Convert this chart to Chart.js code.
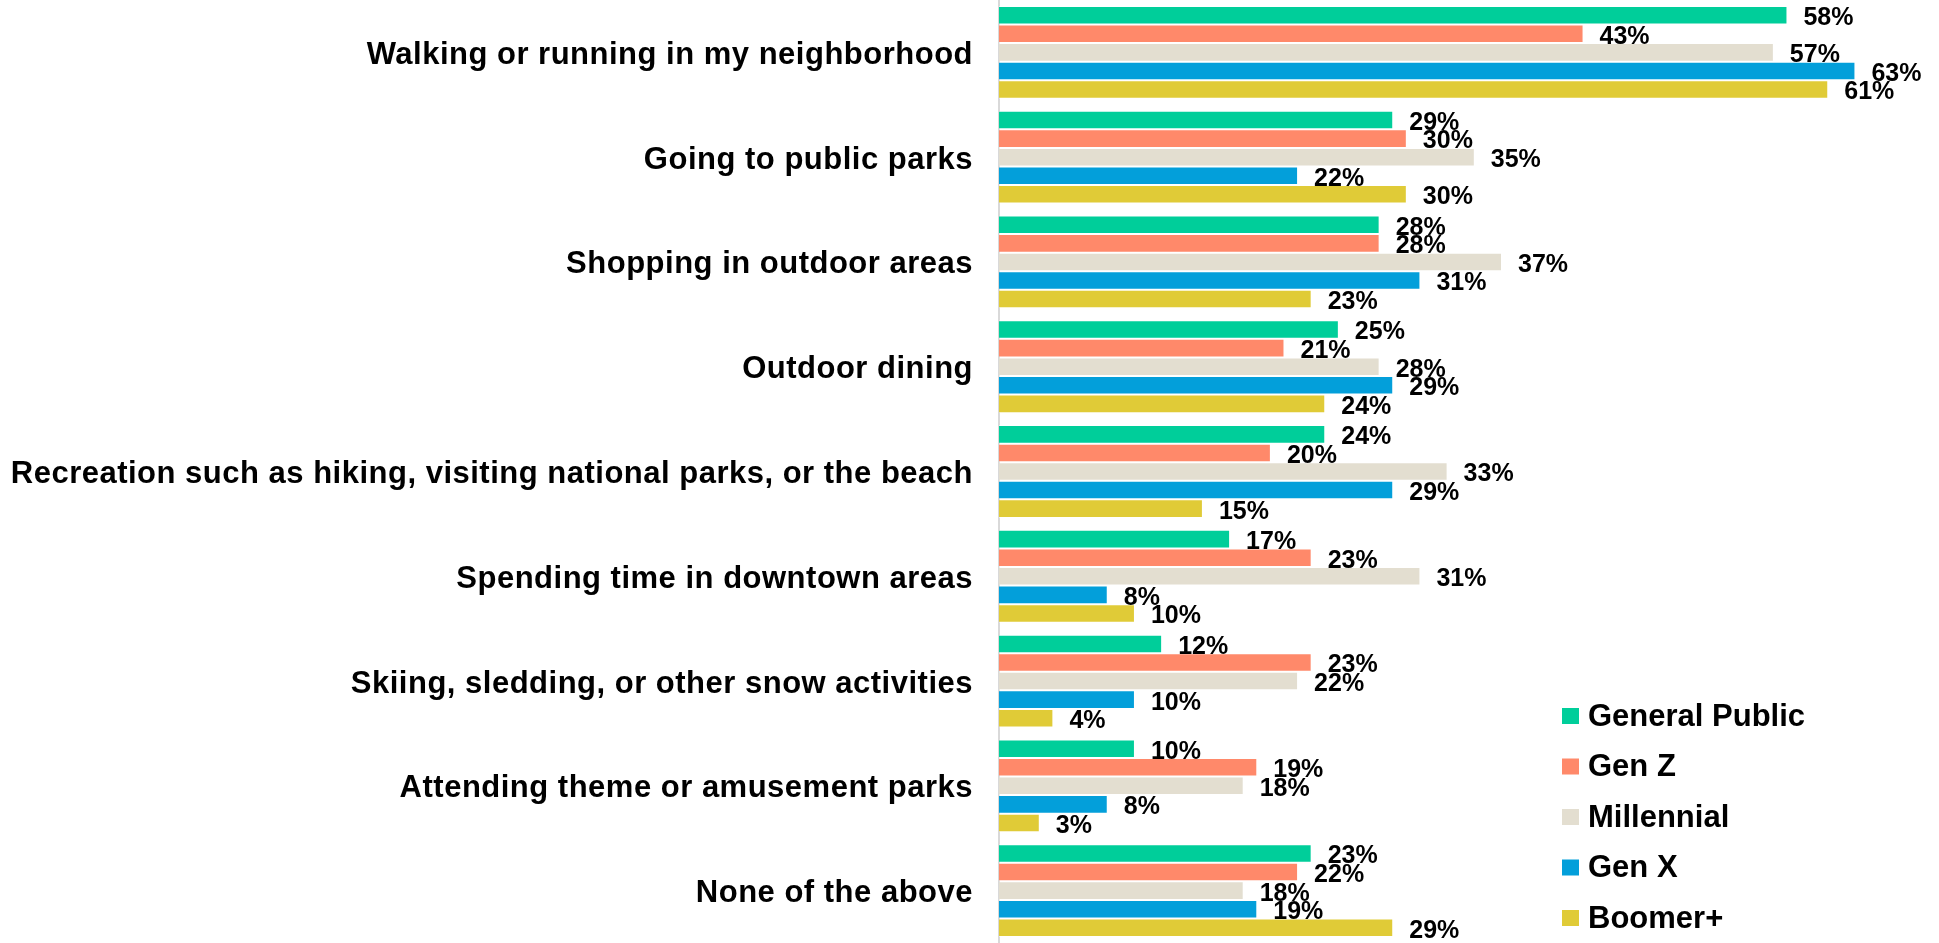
<!DOCTYPE html>
<html>
<head>
<meta charset="utf-8">
<script src="https://cdn.jsdelivr.net/npm/chart.js@4.4.0/dist/chart.umd.min.js"></script>
<style>
  html, body { margin: 0; padding: 0; background: #fff; }
  #wrap { width: 1939px; height: 943px; position: relative; }
</style>
</head>
<body>
<div id="wrap"><canvas id="chart"></canvas></div>
<script>
    // Chart data
    const categories = [
      'Walking or running in my neighborhood',
      'Going to public parks',
      'Shopping in outdoor areas',
      'Outdoor dining',
      'Recreation such as hiking, visiting national parks, or the beach',
      'Spending time in downtown areas',
      'Skiing, sledding, or other snow activities',
      'Attending theme or amusement parks',
      'None of the above'
    ];
    const seriesNames = ['General Public', 'Gen Z', 'Millennial', 'Gen X', 'Boomer+'];
    const generalPublic = [58, 29, 28, 25, 24, 17, 12, 10, 23];
    const genZ = [43, 30, 28, 21, 20, 23, 23, 19, 22];
    const millennial = [57, 35, 37, 28, 33, 31, 22, 18, 18];
    const genX = [63, 22, 31, 29, 29, 8, 10, 8, 19];
    const boomer = [61, 30, 23, 24, 15, 10, 4, 3, 29];
    const colors = ['#00CE9A', '#FF896A', '#E3DED0', '#039FDA', '#E0CB37'];

    const FONT = '"Liberation Sans", Arial, sans-serif';

    // slightly wider letter spacing for the category labels
    const labelSpacing = {
      id: 'labelSpacing',
      beforeDraw(chart) { chart.ctx.letterSpacing = '0.5px'; },
      beforeDatasetsDraw(chart) { chart.ctx.letterSpacing = '0px'; }
    };

    // value labels at bar ends
    const valueLabels = {
      id: 'valueLabels',
      afterDatasetsDraw(chart) {
        const ctx = chart.ctx;
        ctx.save();
        ctx.letterSpacing = '0px';
        ctx.font = 'bold 25px ' + FONT;
        ctx.fillStyle = '#000';
        ctx.textBaseline = 'middle';
        chart.data.datasets.forEach((ds, i) => {
          chart.getDatasetMeta(i).data.forEach((bar, j) => {
            ctx.fillText(ds.data[j] + '%', bar.x + 16, bar.y + 3);
          });
        });
        ctx.restore();
      }
    };

    // legend in the lower right corner
    const cornerLegend = {
      id: 'cornerLegend',
      afterDraw(chart) {
        const ctx = chart.ctx;
        ctx.save();
        ctx.letterSpacing = '0px';
        ctx.font = 'bold 31px ' + FONT;
        ctx.textBaseline = 'middle';
        chart.data.datasets.forEach((ds, i) => {
          const y = 716 + i * 50.5;
          ctx.fillStyle = ds.backgroundColor;
          ctx.fillRect(1562, y - 8, 17, 16);
          ctx.fillStyle = '#000';
          ctx.fillText(ds.label, 1588, y + 1);
        });
        ctx.restore();
      }
    };

    const allData = [generalPublic, genZ, millennial, genX, boomer];

    new Chart(document.getElementById('chart'), {
      type: 'bar',
      data: {
        labels: categories,
        datasets: seriesNames.map((name, i) => ({
          label: name,
          data: allData[i],
          backgroundColor: colors[i],
          borderColor: 'rgba(255,255,255,0.5)',
          borderWidth: 1,
          barPercentage: 1,
          categoryPercentage: 0.886
        }))
      },
      options: {
        indexAxis: 'y',
        responsive: true,
        maintainAspectRatio: false,
        animation: false,
        layout: { padding: { left: 0, right: 2, top: 0, bottom: 0 } },
        scales: {
          x: {
            display: false,
            min: 0,
            max: 69
          },
          y: {
            grid: {
              display: true,
              drawOnChartArea: false,
              drawTicks: true,
              tickLength: 26,
              color: 'rgba(0,0,0,0)'
            },
            border: { color: '#D9D9D9', width: 2 },
            ticks: {
              color: '#000',
              padding: 0,
              labelOffset: 3,
              autoSkip: false,
              font: { family: FONT, size: 31, weight: 'bold' }
            },
            afterFit(scale) {
              scale.width = 999;
              scale.paddingTop = 0;
              scale.paddingBottom = 0;
            }
          }
        },
        plugins: {
          legend: { display: false },
          tooltip: { enabled: false }
        }
      },
      plugins: [labelSpacing, valueLabels, cornerLegend]
    });
</script>
</body>
</html>
